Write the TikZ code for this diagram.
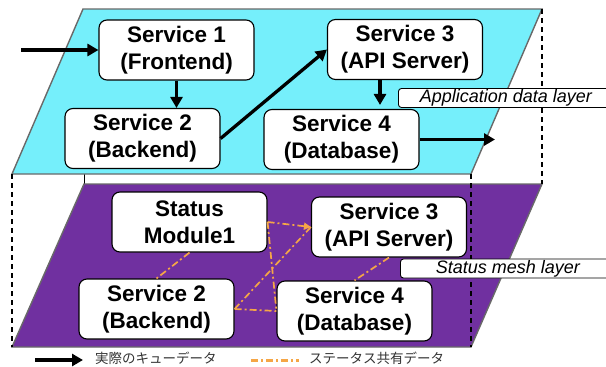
\documentclass[tikz,border=0pt]{standalone}
\usepackage{fontspec}
\setsansfont{Liberation Sans}
\newfontfamily\jpfont{Noto Sans CJK JP}
\usetikzlibrary{
  arrows.meta,
  calc
}
\definecolor{appFill}{RGB}{117,239,251}
\definecolor{meshFill}{RGB}{112,48,160}
\definecolor{layerStroke}{RGB}{105,105,105}
\definecolor{meshLine}{RGB}{245,166,70}
\colorlet{ink}{black}
\tikzset{
  flow/.style={-{Triangle[length=11pt,width=12pt]}, draw=ink, line width=3.3pt},
  mesh/.style={draw=meshLine, line width=1.7pt, dash pattern=on 7pt off 3pt on 2pt off 3pt},
  layer/.style={draw=layerStroke, line width=1.4pt},
  guide/.style={draw=ink, line width=1.1pt, dash pattern=on 5pt off 4pt},
  svcbox/.style={
    draw=ink,
    fill=white,
    rounded corners=8pt,
    line width=1.1pt,
    minimum width=155pt,
    minimum height=60pt,
    inner sep=2pt,
    align=center,
    font=\sffamily\bfseries\fontsize{22.5}{27}\selectfont
  },
  layerlabel/.style={
    draw=ink,
    fill=white,
    rounded corners=3pt,
    line width=0.9pt,
    minimum width=215pt,
    minimum height=19pt,
    inner sep=0pt,
    anchor=west,
    font=\sffamily\itshape\fontsize{18}{20}\selectfont
  },
  keytext/.style={anchor=west, inner sep=0pt, font=\jpfont\fontsize{13.5}{15}\selectfont, text=black!80}
}

\begin{document}
\begin{tikzpicture}[x=1pt,y=-1pt]
  \useasboundingbox (0,0) rectangle (606,367);

  % edge joining the two layers behind the top plane
  \draw[draw=ink, line width=1pt] (84,9) -- (84,184);

  % the two planes
  \filldraw[layer, fill=appFill] (83,9) -- (542,9) -- (471,174) -- (12,174) -- cycle;
  \filldraw[layer, fill=meshFill] (84,184) -- (542,184) -- (471,347) -- (12,347) -- cycle;

  \draw[guide] (542,9) -- (542,184);
  \draw[guide] (12,174) -- (12,347);
  \draw[guide] (471,174) -- (471,347);

  % application data layer
  \node[svcbox] (s1top) at (176.5,50) {Service 1\\(Frontend)};
  \node[svcbox] (s3top) at (405,49.5) {Service 3\\(API Server)};
  \node[svcbox] (s2top) at (142.5,138.5) {Service 2\\(Backend)};
  \node[svcbox] (s4top) at (341.5,139.5) {Service 4\\(Database)};
  \coordinate (entry) at (21,50);
  \coordinate (exit) at (495,139.5);

  \draw[flow] (entry) -- (s1top.west);
  \draw[flow] (s1top.south) -- (s1top.south |- s2top.north);
  \draw[flow] (s2top.east) -- (s3top.west);
  \draw[flow, shorten >=4pt] ([xshift=-25pt]s3top.south) -- ([xshift=-25pt]s3top.south |- s4top.north);
  \draw[flow] (s4top.east) -- (exit);

  % status mesh layer
  \node[svcbox] (status1) at (189.5,222) {Status\\Module1};
  \node[svcbox] (s3mesh) at (389,227) {Service 3\\(API Server)};
  \node[svcbox] (s2mesh) at (156.5,309) {Service 2\\(Backend)};
  \node[svcbox] (s4mesh) at (354.5,311) {Service 4\\(Database)};

  \draw[mesh, -{Triangle[length=7pt,width=7pt]}] (status1.east) -- (s3mesh.west);
  \draw[mesh] (status1.east) -- (s4mesh.west);
  \draw[mesh] (status1.south) -- (s2mesh.north);
  \draw[mesh] (s2mesh.east) -- (s3mesh.west);
  \draw[mesh] (s2mesh.east) -- (s4mesh.west);
  \draw[mesh] (s3mesh.south) -- (s4mesh.north);

  \node[layerlabel] (applabel) at (398,98) {Application data layer};
  \node[layerlabel] (meshlabel) at (400,268.5) {Status mesh layer};

  % key
  \coordinate (keyflowA) at (35,360);
  \coordinate (keyflowB) at (83,360);
  \coordinate (keymeshA) at (251,360);
  \coordinate (keymeshB) at (299,360);
  \draw[flow, line width=4pt] (keyflowA) -- (keyflowB);
  \node[keytext] (keyflow) at (95,358) {実際のキューデータ};
  \draw[mesh, line width=3pt] (keymeshA) -- (keymeshB);
  \node[keytext] (keymesh) at (309,358) {ステータス共有データ};
\end{tikzpicture}
\end{document}
